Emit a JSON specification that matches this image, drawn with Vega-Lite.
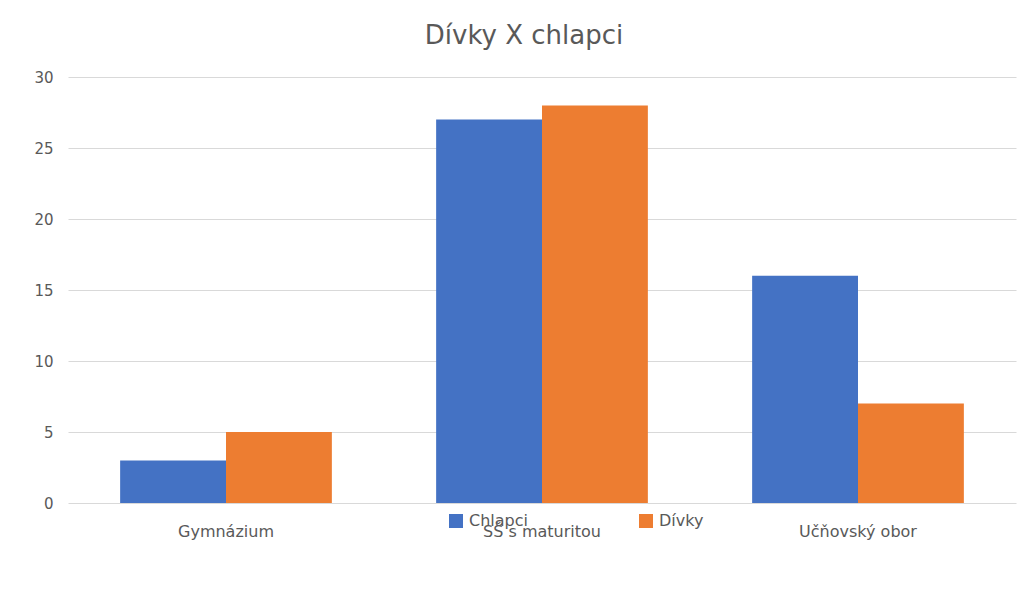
{
  "$schema": "https://vega.github.io/schema/vega-lite/v6.json",
  "autosize": {"type": "none"},
  "width": 948,
  "height": 426,
  "padding": {"left": 68, "top": 77, "right": 9, "bottom": 102},
  "background": "white",
  "title": {"text": "Dívky X chlapci", "font": "DejaVu Sans", "fontSize": 26, "fontWeight": "normal", "color": "#595959", "anchor": "middle", "dx": -18, "offset": 21},
  "data": {"values": [
    {"kategorie": "Gymnázium", "skupina": "Chlapci", "pocet": 3},
    {"kategorie": "Gymnázium", "skupina": "Dívky", "pocet": 5},
    {"kategorie": "SŠ s maturitou", "skupina": "Chlapci", "pocet": 27},
    {"kategorie": "SŠ s maturitou", "skupina": "Dívky", "pocet": 28},
    {"kategorie": "Učňovský obor", "skupina": "Chlapci", "pocet": 16},
    {"kategorie": "Učňovský obor", "skupina": "Dívky", "pocet": 7}
  ]},
  "mark": {"type": "bar"},
  "encoding": {
    "x": {"field": "kategorie", "type": "nominal", "sort": null, "title": null,
      "scale": {"paddingInner": 0.33, "paddingOuter": 0.165},
      "axis": {"labelAngle": 0, "domain": false, "ticks": false, "labelPadding": 20, "labelFont": "DejaVu Sans", "labelFontSize": 16, "labelColor": "#595959"}},
    "xOffset": {"field": "skupina", "type": "nominal", "sort": ["Chlapci", "Dívky"], "scale": {"paddingInner": 0, "paddingOuter": 0}},
    "y": {"field": "pocet", "type": "quantitative", "title": null,
      "scale": {"domain": [0, 30]},
      "axis": {"values": [0, 5, 10, 15, 20, 25, 30], "domain": false, "ticks": false, "labelPadding": 15, "labelFont": "DejaVu Sans", "labelFontSize": 15, "labelColor": "#595959", "gridColor": "#d9d9d9", "gridWidth": 1}},
    "color": {"field": "skupina", "type": "nominal", "sort": ["Chlapci", "Dívky"],
      "scale": {"domain": ["Chlapci", "Dívky"], "range": ["#4472C4", "#ED7D31"]},
      "legend": {"title": null, "orient": "none", "direction": "horizontal", "legendX": 380, "legendY": 436,
        "symbolType": "square", "symbolSize": 196, "symbolStrokeWidth": 0, "symbolOpacity": 1,
        "labelFont": "DejaVu Sans", "labelFontSize": 16, "labelColor": "#595959", "labelOffset": 5, "columnPadding": 110}}
  },
  "config": {"view": {"stroke": null}}
}
